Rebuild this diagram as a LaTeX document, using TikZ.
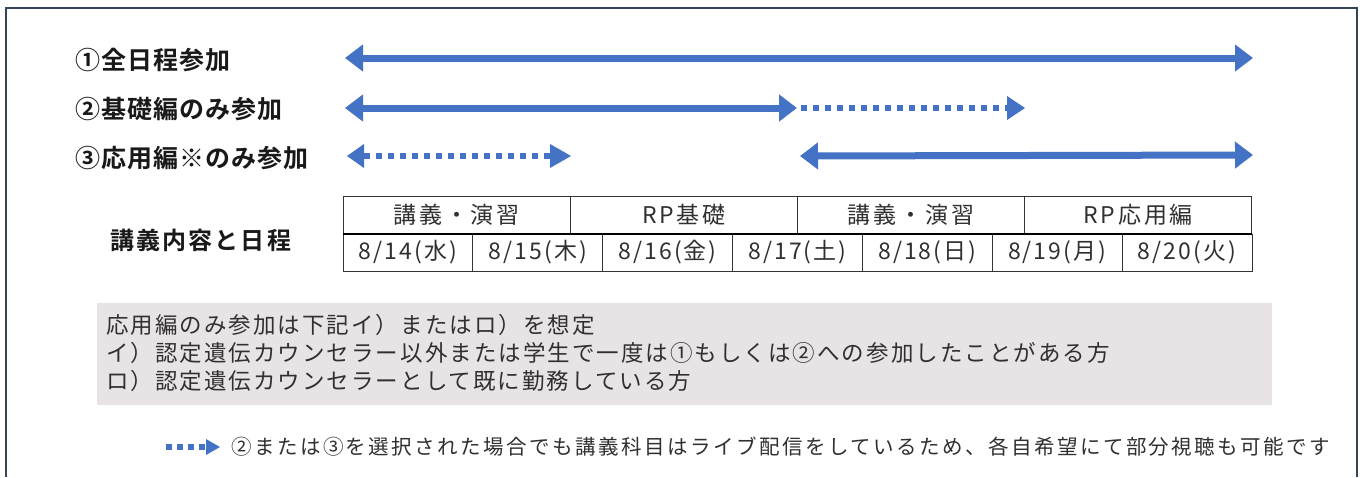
\documentclass[tikz,border=0pt]{standalone}
\usepackage{fontspec}
\setmainfont{Noto Sans CJK JP}[BoldFont={* Bold}]
\usetikzlibrary{arrows.meta,calc}
\definecolor{ablue}{HTML}{4472C4}
\definecolor{boxgray}{HTML}{E8E4E5}
\definecolor{txt}{HTML}{303030}
\definecolor{frame}{HTML}{34445A}
\newcommand{\jpfont}[2]{\fontsize{#1}{#1}\selectfont\addfontfeature{LetterSpace=#2}}
\begin{document}
\begin{tikzpicture}[x=1pt,y=-1pt,
  solidarrow/.style={draw=ablue,line width=7pt,
     arrows={Triangle[length=18pt,width=26pt]-Triangle[length=18pt,width=26pt]}},
  dotline/.style={draw=ablue,line width=6pt,dash pattern=on 6pt off 6pt},
  dothead/.style={fill=ablue,draw=none},
  lab/.style={anchor=west,inner sep=0pt,text=black!90,font=\jpfont{25}{4}\bfseries},
  cell/.style={draw=black!80,line width=0.9pt,outer sep=0pt,minimum height=38pt,inner sep=0pt,text=txt,anchor=north west},
  hcell/.style={cell,minimum width=227.2pt,font=\jpfont{23}{12}},
  dcell/.style={cell,minimum width=129.85pt,minimum height=37pt,font=\jpfont{23}{9}},
  note/.style={anchor=west,inner sep=0pt,text=txt,font=\jpfont{22.5}{9}},
  legend/.style={anchor=west,inner sep=0pt,text=txt,font=\jpfont{20.5}{12}}
]
\useasboundingbox (0,0) rectangle (1365,477);
\fill[white] (0,0) rectangle (1365,477);
% frame
\draw[frame,line width=1.5pt] (6,477) -- (6,8) -- (1357,8) -- (1357,477);

% labels
\node[lab] (l1) at (75,60) {①全日程参加};
\node[lab] (l2) at (75,109) {②基礎編のみ参加};
\node[lab] (l3) at (75,158) {③応用編※のみ参加};

% row 1
\coordinate (a1) at (345,58);
\coordinate (b1) at (1253,58);
\draw[solidarrow] (a1) -- (b1);

% row 2
\coordinate (a2) at (345,108);
\coordinate (b2) at (797,108);
\coordinate (c2) at (801,108);
\coordinate (d2) at (1007,108);
\coordinate (e2) at (1025,108);
\draw[solidarrow] (a2) -- (b2);
\draw[dotline] (c2) -- (d2);
\fill[dothead] (e2) -- ($(d2)+(0,-12)$) -- ($(d2)+(0,12)$) -- cycle;

% row 3 dotted
\coordinate (a3) at (347,156);
\coordinate (a3b) at (364,156);
\coordinate (b3b) at (550,156);
\coordinate (b3) at (571,156);
\fill[dothead] (a3) -- ($(a3b)+(0,-12)$) -- ($(a3b)+(0,12)$) -- cycle;
\draw[dotline] (a3b) -- (b3b);
\fill[dothead] (b3) -- ($(b3b)+(0,-12)$) -- ($(b3b)+(0,12)$) -- cycle;
% row 3 solid
\coordinate (c3) at (800,156);
\coordinate (d3) at (1253,155);
\draw[solidarrow] (c3) -- (d3);

% schedule label
\node[anchor=west,inner sep=0pt,text=black!90,font=\jpfont{24}{9}\bfseries] (sched) at (110,240) {講義内容と日程};

% table header
\node[hcell] (h1) at (343,196) {講義・演習};
\node[hcell] (h2) at (h1.north east) {RP基礎};
\node[hcell] (h3) at (h2.north east) {講義・演習};
\node[hcell] (h4) at (h3.north east) {RP応用編};
% table dates
\node[dcell] (d1) at (h1.south west) {8/14(水)};
\node[dcell] (dd2) at (d1.north east) {8/15(木)};
\node[dcell] (dd3) at (dd2.north east) {8/16(金)};
\node[dcell] (dd4) at (dd3.north east) {8/17(土)};
\node[dcell] (dd5) at (dd4.north east) {8/18(日)};
\node[dcell] (dd6) at (dd5.north east) {8/19(月)};
\node[dcell] (dd7) at (dd6.north east) {8/20(火)};
\draw[black,line width=1.8pt] (h1.south west) -- (h4.south east);

% gray note box
\fill[boxgray] (97,303) rectangle (1272,405);
\node[note] (n1) at (106,325) {応用編のみ参加は下記イ）またはロ）を想定};
\node[note] (n2) at (106,353) {イ）認定遺伝カウンセラー以外または学生で一度は①もしくは②への参加したことがある方};
\node[note] (n3) at (106,381) {ロ）認定遺伝カウンセラーとして既に勤務している方};

% legend
\coordinate (la) at (166,447);
\coordinate (lb) at (206,447);
\coordinate (lc) at (220,447);
\draw[ablue,line width=5.5pt,dash pattern=on 6pt off 5pt] (la) -- (lb);
\fill[dothead] (lc) -- ($(lb)+(0,-8)$) -- ($(lb)+(0,8)$) -- cycle;
\node[legend] (lt) at (231,447) {②または③を選択された場合でも講義科目はライブ配信をしているため、各自希望にて部分視聴も可能です};
\end{tikzpicture}
\end{document}
